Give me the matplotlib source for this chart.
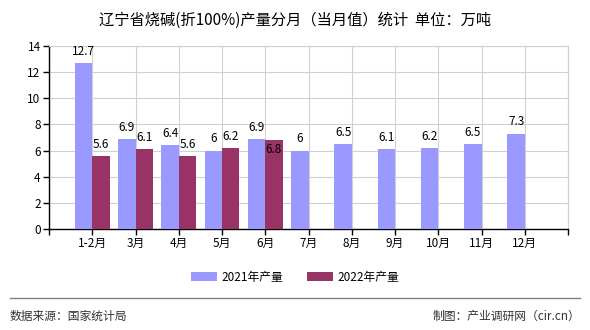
import matplotlib
matplotlib.use("Agg")
import matplotlib.pyplot as plt
import numpy as np

plt.rcParams['font.family'] = ['Noto Sans CJK SC', 'DejaVu Sans']

categories = ["1-2月", "3月", "4月", "5月", "6月", "7月", "8月", "9月", "10月", "11月", "12月"]
output_2021 = [12.7, 6.9, 6.4, 6.0, 6.9, 6.0, 6.5, 6.1, 6.2, 6.5, 7.3]
output_2022 = [5.6, 6.1, 5.6, 6.2, 6.8]
y_ticks = [0, 2, 4, 6, 8, 10, 12, 14]

c2021 = "#9999FF"
c2022 = "#993366"

fig = plt.figure(figsize=(5.9, 3.3), dpi=100)
ax = fig.add_axes([49 / 590, 1 - 229 / 330, (568 - 49) / 590, (229 - 46) / 330])

x = np.arange(1, len(categories) + 1)
w = 0.4
ax.bar(x - w / 2, output_2021, width=w, color=c2021, label="2021年产量", zorder=3)
x2 = x[:len(output_2022)]
ax.bar(x2 + w / 2, output_2022, width=w, color=c2022, label="2022年产量", zorder=3)

def fmt(v):
    return f"{v:g}"

for xi, v in zip(x, output_2021):
    ax.text(xi - w / 2, v + 0.4, fmt(v), ha="center", va="bottom", fontsize=8.5, zorder=4)
for xi, v in zip(x2, output_2022):
    prev = output_2021[xi - 1]
    # a label that would collide with the neighbouring 2021 label goes inside the bar
    if v <= prev and prev - v < 0.3:
        ax.text(xi + w / 2, v - 0.25, fmt(v), ha="center", va="top", fontsize=8.5, zorder=4)
    else:
        ax.text(xi + w / 2, v + 0.4, fmt(v), ha="center", va="bottom", fontsize=8.5, zorder=4)

ax.set_xlim(0, len(categories) + 1)
ax.set_ylim(0, 14)
ax.set_yticks(y_ticks)
ax.set_yticklabels([str(t) for t in y_ticks], fontsize=8.5)
ax.set_xticks(np.arange(0, len(categories) + 2))
ax.set_xticklabels([""] + categories + [""], fontsize=8.5)
ax.grid(True, color="#d0d0d0", linewidth=0.8, zorder=0)
ax.set_axisbelow(True)
for s in ["top", "right"]:
    ax.spines[s].set_color("#d0d0d0")
    ax.spines[s].set_linewidth(0.8)
for s in ["left", "bottom"]:
    ax.spines[s].set_color("black")
    ax.spines[s].set_linewidth(1.0)
ax.tick_params(axis="both", direction="out", length=4, width=1, color="black", pad=2)

fig.text(0.5, 1 - 20 / 330, "辽宁省烧碱(折100%)产量分月（当月值）统计  单位：万吨",
         ha="center", va="center", fontsize=11)

handles, labels = ax.get_legend_handles_labels()
fig.legend(handles, labels, loc="center", bbox_to_anchor=(0.5, 1 - 277 / 330), ncol=2,
           frameon=False, fontsize=8.5, handlelength=2.2, handleheight=0.9,
           columnspacing=2.0, handletextpad=0.4)

fig.add_artist(plt.Line2D([10 / 590, 580 / 590], [1 - 298 / 330, 1 - 298 / 330],
                          color="#808080", linewidth=1.0))
fig.text(10 / 590, 1 - 316 / 330, "数据来源：国家统计局", ha="left", va="center", fontsize=8.5, color="#333333")
fig.text(580 / 590, 1 - 316 / 330, "制图：产业调研网（cir.cn）", ha="right", va="center", fontsize=8.5, color="#333333")

fig.savefig("out.png", dpi=100)
